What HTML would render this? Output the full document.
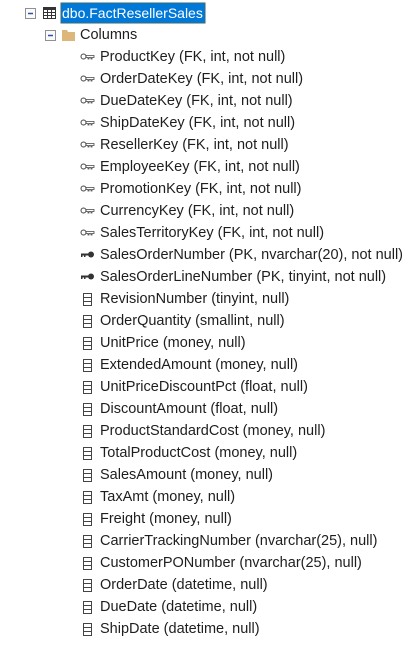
<!DOCTYPE html>
<html><head><style>
body{margin:0;width:413px;height:645px;background:#fff;position:relative;overflow:hidden;font-family:"Liberation Sans",sans-serif;font-size:14.5px;color:#1e1e1e}
.t{position:absolute;white-space:nowrap;line-height:16px}
.i{position:absolute}
</style></head><body>
<svg class="i" style="left:0;top:0" width="413" height="645">
<rect x="25.5" y="8.5" width="10" height="10" fill="#fafafa" stroke="#909090"/>
<line x1="28" y1="13.5" x2="33" y2="13.5" stroke="#3050a0" stroke-width="1.5"/>
<rect x="45.5" y="30.5" width="10" height="10" fill="#fafafa" stroke="#909090"/>
<line x1="48" y1="35.5" x2="53" y2="35.5" stroke="#3050a0" stroke-width="1.5"/>
<g fill="#333"><rect x="43" y="7" width="13" height="12"/></g>
<g fill="#fff"><rect x="44" y="10" width="3" height="2"/><rect x="48" y="10" width="3" height="2"/><rect x="52" y="10" width="3" height="2"/>
<rect x="44" y="13" width="3" height="2"/><rect x="48" y="13" width="3" height="2"/><rect x="52" y="13" width="3" height="2"/>
<rect x="44" y="16" width="3" height="2"/><rect x="48" y="16" width="3" height="2"/><rect x="52" y="16" width="3" height="2"/></g>
<path d="M62 30h5l1 2h7v9h-13z" fill="#dcb67a"/>
<rect x="60.5" y="2.5" width="145" height="21" fill="#0078d7" stroke="#e8a030" stroke-dasharray="1,1"/>
<g id="icons"></g>
</svg>
<div class="t" style="left:62px;top:5px;color:#fff;font-size:14px">dbo.FactResellerSales</div>
<div class="t" style="left:80px;top:27px">Columns</div>
<div id="rows"></div>
<script>
var rows=[["f","ProductKey (FK, int, not null)"],["f","OrderDateKey (FK, int, not null)"],["f","DueDateKey (FK, int, not null)"],["f","ShipDateKey (FK, int, not null)"],["f","ResellerKey (FK, int, not null)"],["f","EmployeeKey (FK, int, not null)"],["f","PromotionKey (FK, int, not null)"],["f","CurrencyKey (FK, int, not null)"],["f","SalesTerritoryKey (FK, int, not null)"],["p","SalesOrderNumber (PK, nvarchar(20), not null)"],["p","SalesOrderLineNumber (PK, tinyint, not null)"],["c","RevisionNumber (tinyint, null)"],["c","OrderQuantity (smallint, null)"],["c","UnitPrice (money, null)"],["c","ExtendedAmount (money, null)"],["c","UnitPriceDiscountPct (float, null)"],["c","DiscountAmount (float, null)"],["c","ProductStandardCost (money, null)"],["c","TotalProductCost (money, null)"],["c","SalesAmount (money, null)"],["c","TaxAmt (money, null)"],["c","Freight (money, null)"],["c","CarrierTrackingNumber (nvarchar(25), null)"],["c","CustomerPONumber (nvarchar(25), null)"],["c","OrderDate (datetime, null)"],["c","DueDate (datetime, null)"],["c","ShipDate (datetime, null)"]];
var h="",s="";
rows.forEach(function(r,i){var cy=57+i*22;
h+='<div class="t" style="left:100px;top:'+(cy-8)+'px">'+r[1]+'</div>';
if(r[0]=="f"){s+='<circle cx="83.5" cy="'+(cy-.5)+'" r="2.5" fill="none" stroke="#444"/><path d="M86 '+(cy-1.5)+'h8v2h-2v1.5h-1v-1.5h-2v1.5h-1v-1.5h-2z" fill="none" stroke="#444" stroke-width="0.8"/>';}
else if(r[0]=="p"){s+='<circle cx="91" cy="'+(cy-.5)+'" r="3" fill="#333"/><rect x="81" y="'+(cy-1.5)+'" width="8" height="2" fill="#333"/><rect x="81" y="'+(cy)+'" width="1.5" height="2" fill="#333"/><rect x="84" y="'+(cy)+'" width="1.5" height="2" fill="#333"/>';}
else{s+='<rect x="83.5" y="'+(cy-5.5)+'" width="8" height="12" fill="none" stroke="#444"/><line x1="84" y1="'+(cy-1.5)+'" x2="91" y2="'+(cy-1.5)+'" stroke="#444"/><line x1="84" y1="'+(cy+2.5)+'" x2="91" y2="'+(cy+2.5)+'" stroke="#444"/>';}
});
document.getElementById("rows").innerHTML=h;
document.getElementById("icons").innerHTML=s;
</script>
</body></html>
